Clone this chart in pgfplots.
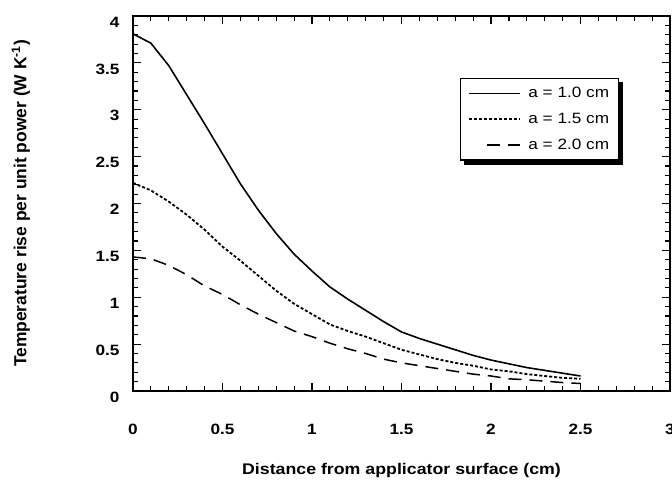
\documentclass[border=0pt]{standalone}
\usepackage{pgfplots}
\pgfplotsset{compat=1.18}
\usepackage{fontspec}
\setmainfont{Liberation Sans}[FakeStretch=1.15]
\newfontfamily\plainsans{Liberation Sans}
\pgfplotsset{dashleg/.style={legend image code/.code={\draw[##1] (18bp,0bp) -- (51bp,0bp);}}}

\begin{document}
\begin{tikzpicture}
\begin{axis}[
  at={(0,0)}, anchor=south west,
  scale only axis, width=537bp, height=375bp,
  xmin=0, xmax=3, ymin=0, ymax=4,
  xtick={0,0.5,...,3}, ytick={0,0.5,...,4},
  minor x tick num=4, minor y tick num=4,
  tick align=inside, major tick length=8bp, minor tick length=5bp,
  every tick/.style={black, line width=1.2pt},
  axis line style={line width=1.6pt},
  /pgf/number format/assume math mode=true,
  xticklabel={\pgfmathprintnumber{\tick}},
  yticklabel={\pgfmathprintnumber{\tick}},
  ticklabel style={font=\fontsize{15}{17}\selectfont\bfseries},
  xticklabel style={yshift=-30bp},
  yticklabel style={yshift=-6bp, xshift=-10bp},
  xlabel={Distance from applicator surface (cm)},
  ylabel={Temperature rise per unit power (W K\textsuperscript{-1})},
  xlabel style={font=\fontsize{15.5}{18}\selectfont\bfseries,
    at={(rel axis cs:0.5,0)}, anchor=center, yshift=-80bp},
  ylabel style={font=\fontsize{17.5}{20}\selectfont\plainsans\bfseries,
    at={(axis description cs:-0.209,0.5)}, anchor=center},
  legend cell align=left,
  legend style={at={(rel axis cs:0.609,0.835)}, anchor=north west,
    name=lgd, draw=black, line width=1.2pt, font=\fontsize{15}{17}\selectfont,
    row sep=10bp, inner xsep=7bp, inner ysep=7bp,
    /tikz/every odd column/.append style={column sep=6bp}},
  legend image code/.code={\draw[#1] (0bp,0bp) -- (51bp,0bp);},
]
\addplot[black, line width=1.6pt] coordinates {
 (0,3.81)(0.1,3.71)(0.2,3.47)(0.3,3.16)(0.4,2.85)(0.5,2.53)(0.6,2.21)
 (0.7,1.93)(0.8,1.68)(0.9,1.46)(1.0,1.28)(1.1,1.11)(1.2,0.98)(1.3,0.86)
 (1.4,0.74)(1.5,0.63)(1.6,0.56)(1.7,0.50)(1.8,0.44)(1.9,0.38)(2.0,0.33)
 (2.1,0.29)(2.2,0.25)(2.3,0.22)(2.4,0.19)(2.5,0.16)};
\addlegendentry{a = 1.0 cm}
\addplot[black, line width=1.8pt, dash pattern=on 3bp off 2bp] coordinates {
 (0,2.22)(0.1,2.14)(0.2,2.02)(0.3,1.88)(0.4,1.72)(0.5,1.54)(0.6,1.39)
 (0.7,1.23)(0.8,1.07)(0.9,0.93)(1.0,0.82)(1.1,0.71)(1.2,0.64)(1.3,0.58)
 (1.4,0.51)(1.5,0.44)(1.6,0.39)(1.7,0.34)(1.8,0.30)(1.9,0.27)(2.0,0.23)
 (2.1,0.21)(2.2,0.18)(2.3,0.16)(2.4,0.14)(2.5,0.13)};
\addlegendentry{a = 1.5 cm}
\addplot[black, line width=1.5pt, dash pattern=on 13bp off 8bp, dashleg] coordinates {
 (0,1.43)(0.1,1.41)(0.2,1.34)(0.3,1.24)(0.4,1.12)(0.5,1.03)(0.6,0.92)
 (0.7,0.82)(0.8,0.73)(0.9,0.64)(1.0,0.58)(1.1,0.51)(1.2,0.45)(1.3,0.40)
 (1.4,0.34)(1.5,0.30)(1.6,0.27)(1.7,0.24)(1.8,0.21)(1.9,0.18)(2.0,0.16)
 (2.1,0.13)(2.2,0.12)(2.3,0.105)(2.4,0.09)(2.5,0.08)};
\addlegendentry{a = 2.0 cm}
\end{axis}
\draw[line width=3.5bp] ([xshift=2.3bp,yshift=-4bp]lgd.north east)
  -- ([xshift=2.3bp,yshift=-2.3bp]lgd.south east)
  -- ([xshift=4bp,yshift=-2.3bp]lgd.south west);
\pgfresetboundingbox
\path[use as bounding box] (-133bp,-90bp) rectangle (539bp,391bp);
\end{tikzpicture}
\end{document}
